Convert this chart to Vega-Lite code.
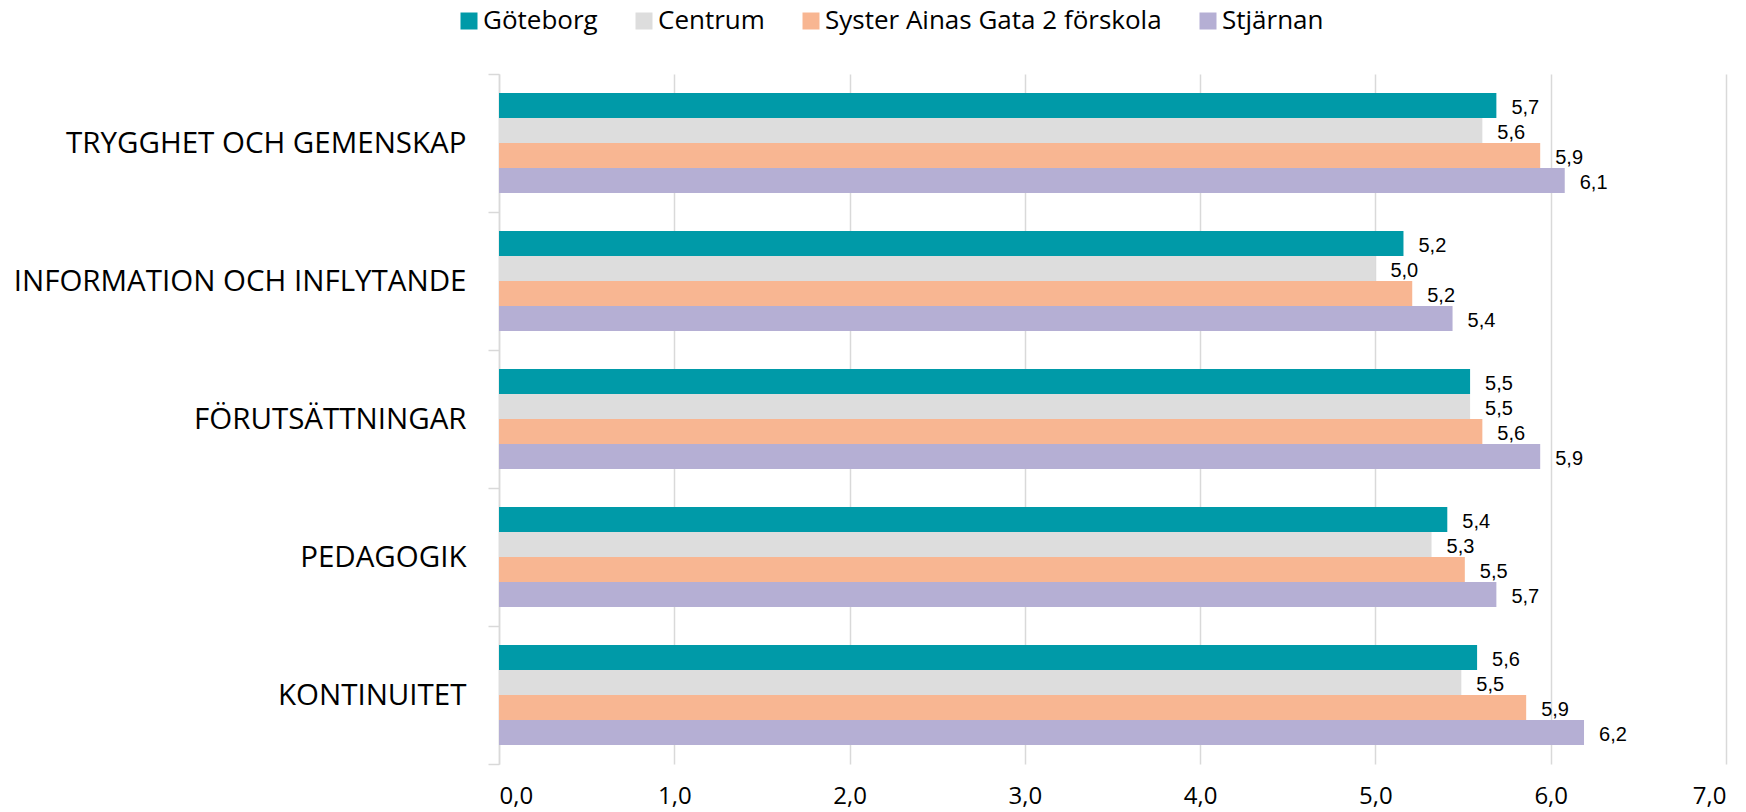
{
  "$schema": "https://vega.github.io/schema/vega-lite/v6.json",
  "autosize": {"type": "none"},
  "width": 1227,
  "height": 690,
  "padding": {"left": 499, "top": 74, "right": 20, "bottom": 48},
  "background": "#ffffff",
  "data": {
    "values": [
      {"omrade": "TRYGGHET OCH GEMENSKAP", "enhet": "Göteborg", "varde": 5.69},
      {"omrade": "TRYGGHET OCH GEMENSKAP", "enhet": "Centrum", "varde": 5.61},
      {"omrade": "TRYGGHET OCH GEMENSKAP", "enhet": "Syster Ainas Gata 2 förskola", "varde": 5.94},
      {"omrade": "TRYGGHET OCH GEMENSKAP", "enhet": "Stjärnan", "varde": 6.08},
      {"omrade": "INFORMATION OCH INFLYTANDE", "enhet": "Göteborg", "varde": 5.16},
      {"omrade": "INFORMATION OCH INFLYTANDE", "enhet": "Centrum", "varde": 5.00},
      {"omrade": "INFORMATION OCH INFLYTANDE", "enhet": "Syster Ainas Gata 2 förskola", "varde": 5.21},
      {"omrade": "INFORMATION OCH INFLYTANDE", "enhet": "Stjärnan", "varde": 5.44},
      {"omrade": "FÖRUTSÄTTNINGAR", "enhet": "Göteborg", "varde": 5.54},
      {"omrade": "FÖRUTSÄTTNINGAR", "enhet": "Centrum", "varde": 5.54},
      {"omrade": "FÖRUTSÄTTNINGAR", "enhet": "Syster Ainas Gata 2 förskola", "varde": 5.61},
      {"omrade": "FÖRUTSÄTTNINGAR", "enhet": "Stjärnan", "varde": 5.94},
      {"omrade": "PEDAGOGIK", "enhet": "Göteborg", "varde": 5.41},
      {"omrade": "PEDAGOGIK", "enhet": "Centrum", "varde": 5.32},
      {"omrade": "PEDAGOGIK", "enhet": "Syster Ainas Gata 2 förskola", "varde": 5.51},
      {"omrade": "PEDAGOGIK", "enhet": "Stjärnan", "varde": 5.69},
      {"omrade": "KONTINUITET", "enhet": "Göteborg", "varde": 5.58},
      {"omrade": "KONTINUITET", "enhet": "Centrum", "varde": 5.49},
      {"omrade": "KONTINUITET", "enhet": "Syster Ainas Gata 2 förskola", "varde": 5.86},
      {"omrade": "KONTINUITET", "enhet": "Stjärnan", "varde": 6.19}
    ]
  },
  "encoding": {
    "y": {
      "field": "omrade",
      "type": "nominal",
      "sort": null,
      "scale": {"paddingInner": 0, "paddingOuter": 0},
      "axis": {
        "title": null,
        "labelFont": "Open Sans",
        "labelFontSize": 29.5,
        "labelColor": "#000000",
        "labelPadding": 22,
        "labelLimit": 600,
        "tickBand": "extent",
        "tickSize": 11,
        "tickColor": "#D9D9D9",
        "tickWidth": 1.5,
        "domainColor": "#D9D9D9",
        "domainWidth": 1.5,
        "grid": false
      }
    },
    "yOffset": {
      "field": "enhet",
      "type": "nominal",
      "sort": ["Göteborg", "Centrum", "Syster Ainas Gata 2 förskola", "Stjärnan"],
      "scale": {"paddingInner": 0, "paddingOuter": 0.76}
    },
    "x": {
      "field": "varde",
      "type": "quantitative",
      "scale": {"domain": [0, 7], "nice": false, "zero": true},
      "axis": {
        "title": null,
        "values": [0, 1, 2, 3, 4, 5, 6, 7],
        "format": ".1f",
        "labelFont": "Open Sans",
        "labelFontSize": 24,
        "labelColor": "#000000",
        "labelPadding": 20,
        "ticks": false,
        "domain": false,
        "grid": true,
        "gridColor": "#D9D9D9",
        "gridWidth": 1.5
      }
    }
  },
  "layer": [
    {
      "mark": {"type": "bar"},
      "encoding": {
        "color": {
          "field": "enhet",
          "type": "nominal",
          "scale": {
            "domain": ["Göteborg", "Centrum", "Syster Ainas Gata 2 förskola", "Stjärnan"],
            "range": ["#009AA8", "#DDDDDD", "#F8B692", "#B5AFD4"]
          },
          "legend": {
            "title": null,
            "orient": "none",
            "direction": "horizontal",
            "legendX": -43,
            "legendY": -66,
            "symbolType": "square",
            "symbolSize": 289,
            "symbolStrokeWidth": 0,
            "symbolOpacity": 1,
            "labelFont": "Open Sans",
            "labelFontSize": 26,
            "labelColor": "#000000",
            "labelOffset": 1,
            "labelLimit": 600,
            "columnPadding": 33
          }
        }
      }
    },
    {
      "mark": {
        "type": "text",
        "align": "left",
        "baseline": "middle",
        "dx": 15,
        "dy": 2,
        "font": "Liberation Sans",
        "fontSize": 20,
        "color": "#000000"
      },
      "encoding": {
        "text": {"field": "varde", "type": "quantitative", "format": ".1f"}
      }
    }
  ],
  "config": {
    "view": {"stroke": null},
    "locale": {
      "number": {
        "decimal": ",",
        "thousands": "\u00a0",
        "grouping": [3],
        "currency": ["", " kr"]
      }
    }
  }
}
